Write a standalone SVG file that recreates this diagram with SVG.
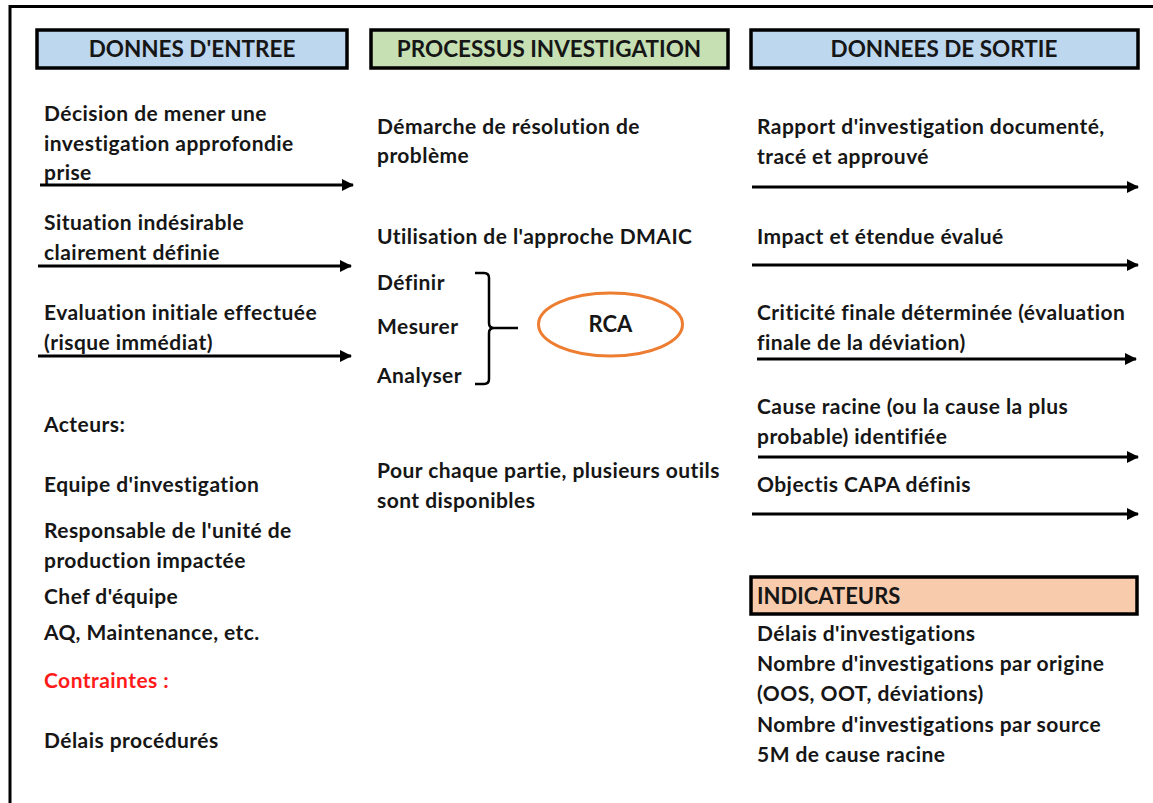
<svg xmlns="http://www.w3.org/2000/svg" width="1153" height="803" viewBox="0 0 1153 803">
<defs>
<marker id="ah" markerWidth="12" markerHeight="12" refX="11" refY="6" orient="auto" markerUnits="userSpaceOnUse">
<path d="M0,0 L12,6 L0,12 Z" fill="#000"/>
</marker>
<style>
text{font-family:Lato,"Open Sans","Liberation Sans",sans-serif;font-weight:bold;font-size:21px;letter-spacing:0.45px;fill:#161616}
.h{font-size:22.5px;letter-spacing:0;text-anchor:middle}
.hb{stroke:#000;stroke-width:3.5}
.arr{stroke:#000;stroke-width:3;fill:none;marker-end:url(#ah)}
.red{fill:#ff1a1a}
</style>
</defs>
<rect width="1153" height="803" fill="#fff"/>
<path d="M10,803 V6.5 H1153" fill="none" stroke="#000" stroke-width="3"/>

<g id="h-entree"><rect class="hb" x="37" y="30" width="310" height="38" fill="#BDD7EE"/><text class="h" x="192" y="57">DONNES D'ENTREE</text></g>
<g id="h-processus"><rect class="hb" x="371" y="30" width="357" height="38" fill="#C6E0B4"/><text class="h" x="549" y="57">PROCESSUS INVESTIGATION</text></g>
<g id="h-sortie"><rect class="hb" x="751" y="30" width="387" height="38" fill="#BDD7EE"/><text class="h" x="944" y="57">DONNEES DE SORTIE</text></g>
<g id="h-indicateurs"><rect class="hb" x="751" y="577" width="386" height="37" fill="#F8CBAD"/><text x="757" y="604" style="font-size:22px;letter-spacing:0">INDICATEURS</text></g>

<g id="entree">
<text x="44" y="121">Décision de mener une</text>
<text x="44" y="151">investigation approfondie</text>
<text x="44" y="180">prise</text>
<text x="44" y="230">Situation indésirable</text>
<text x="44" y="260">clairement définie</text>
<text x="44" y="320">Evaluation initiale effectuée</text>
<text x="44" y="350">(risque immédiat)</text>
<text x="44" y="432">Acteurs:</text>
<text x="44" y="492">Equipe d'investigation</text>
<text x="44" y="538">Responsable de l'unité de</text>
<text x="44" y="568">production impactée</text>
<text x="44" y="604">Chef d'équipe</text>
<text x="44" y="640">AQ, Maintenance, etc.</text>
<text class="red" x="44" y="688">Contraintes :</text>
<text x="44" y="748">Délais procédurés</text>
</g>

<g id="processus">
<text x="377" y="134">Démarche de résolution de</text>
<text x="377" y="163">problème</text>
<text x="377" y="244">Utilisation de l'approche DMAIC</text>
<text x="377" y="290">Définir</text>
<text x="377" y="334">Mesurer</text>
<text x="377" y="383">Analyser</text>
<text x="377" y="478">Pour chaque partie, plusieurs outils</text>
<text x="377" y="508">sont disponibles</text>
</g>

<g id="rca"><ellipse cx="610.5" cy="324.5" rx="72" ry="31.5" fill="none" stroke="#ED7D31" stroke-width="3"/><text x="610.5" y="332" style="font-size:22px;letter-spacing:0;text-anchor:middle">RCA</text></g>

<g id="sortie">
<text x="757" y="134">Rapport d'investigation documenté,</text>
<text x="757" y="164">tracé et approuvé</text>
<text x="757" y="244">Impact et étendue évalué</text>
<text x="757" y="320">Criticité finale déterminée (évaluation</text>
<text x="757" y="350">finale de la déviation)</text>
<text x="757" y="414">Cause racine (ou la cause la plus</text>
<text x="757" y="444">probable) identifiée</text>
<text x="757" y="492">Objectis CAPA définis</text>
<text x="757" y="641">Délais d'investigations</text>
<text x="757" y="671">Nombre d'investigations par origine</text>
<text x="757" y="701">(OOS, OOT, déviations)</text>
<text x="757" y="732">Nombre d'investigations par source</text>
<text x="757" y="762">5M de cause racine</text>
</g>

<g id="connectors">
<path class="arr" d="M40,185 H353"/>
<path class="arr" d="M38,266 H351"/>
<path class="arr" d="M38,356 H351"/>
<path class="arr" d="M752,187 H1138"/>
<path class="arr" d="M752,265 H1138"/>
<path class="arr" d="M757,359 H1136"/>
<path class="arr" d="M758,457 H1138"/>
<path class="arr" d="M752,514 H1138"/>
<path d="M475,273 H484 Q489,273 489,278 V323 Q489,328 494,328 H518 M494,328 Q489,328 489,333 V379 Q489,384 484,384 H475" fill="none" stroke="#000" stroke-width="2.5"/>
</g>
</svg>
